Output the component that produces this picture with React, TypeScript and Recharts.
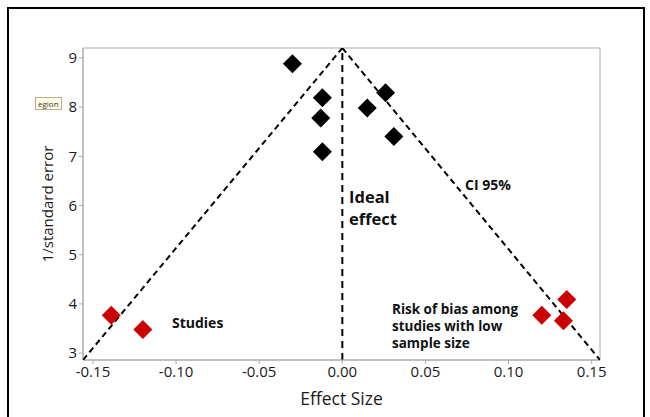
import React from 'react';
import { ScatterChart, Scatter, XAxis, YAxis, ReferenceLine, ReferenceArea, Label } from 'recharts';

const xTicks = [-0.15, -0.1, -0.05, 0, 0.05, 0.1, 0.15];
const yTicks = [3, 4, 5, 6, 7, 8, 9];

const studies = [
  { x: -0.03, y: 8.88 },
  { x: -0.012, y: 8.19 },
  { x: -0.013, y: 7.78 },
  { x: -0.012, y: 7.09 },
  { x: 0.015, y: 7.98 },
  { x: 0.026, y: 8.29 },
  { x: 0.031, y: 7.4 },
];

const biasStudies = [
  { x: -0.139, y: 3.77 },
  { x: -0.12, y: 3.48 },
  { x: 0.12, y: 3.77 },
  { x: 0.133, y: 3.66 },
  { x: 0.135, y: 4.09 },
];

const funnelLeft = [
  { x: -0.156, y: 2.86 },
  { x: 0, y: 9.2 },
];
const funnelRight = [
  { x: 0, y: 9.2 },
  { x: 0.155, y: 2.86 },
];

const font = '"Open Sans", "Noto Sans", sans-serif';

const Diamond = (color: string) => (props: any) => {
  const { cx, cy } = props;
  const r = 9.5;
  return (
    <polygon
      points={`${cx},${cy - r} ${cx + r},${cy} ${cx},${cy + r} ${cx - r},${cy}`}
      fill={color}
    />
  );
};

const NoDot = () => null;

export default function App() {
  return (
    <div style={{ position: 'absolute', left: 0, top: 0, width: 650, height: 417, background: '#fff', fontFamily: font }}>
      <div style={{ position: 'absolute', left: 7, top: 7, width: 634, height: 420, border: '2px solid #000', borderBottom: 'none' }} />
      <div style={{ position: 'absolute', left: 35, top: 97, fontSize: 8, border: '1px solid #b8b08a', background: '#fffbe6', padding: '0 2px', lineHeight: '11px', color: '#333' }}>
        egion
      </div>
      <div style={{ position: 'absolute', left: 0, top: 0 }}>
        <ScatterChart width={650} height={417} margin={{ top: 48, right: 50, left: 0, bottom: 0 }}>
          <XAxis
            type="number"
            dataKey="x"
            domain={[-0.156, 0.155]}
            ticks={xTicks}
            tickFormatter={(v: number) => v.toFixed(2)}
            height={57}
            stroke="#aaa"
            tickSize={4}
            tick={{ fill: '#1a1a1a', fontSize: 15, fontFamily: font }}
            allowDataOverflow
          >
            <Label value="Effect Size" position="insideBottom" offset={12} style={{ fill: '#1a1a1a', fontSize: 17.5, fontFamily: font }} />
          </XAxis>
          <YAxis
            type="number"
            dataKey="y"
            domain={[2.86, 9.2]}
            ticks={yTicks}
            width={83}
            stroke="#aaa"
            tickSize={4}
            tick={{ fill: '#1a1a1a', fontSize: 15, fontFamily: font }}
            allowDataOverflow
          >
            <Label value="1/standard error" angle={-90} position="insideLeft" offset={48} style={{ fill: '#1a1a1a', fontSize: 15, fontFamily: font, textAnchor: 'middle' }} />
          </YAxis>
          <ReferenceArea x1={-0.156} x2={0.155} y1={2.86} y2={9.2} fill="none" stroke="#aaa" strokeWidth={1} />
          <ReferenceLine x={0} stroke="#000" strokeWidth={2} strokeDasharray="7 5" />
          <Scatter data={funnelLeft} shape={NoDot} line={{ stroke: '#000', strokeWidth: 2, strokeDasharray: '6 4' }} isAnimationActive={false} />
          <Scatter data={funnelRight} shape={NoDot} line={{ stroke: '#000', strokeWidth: 2, strokeDasharray: '6 4' }} isAnimationActive={false} />
          <Scatter data={studies} shape={Diamond('#000')} isAnimationActive={false} />
          <Scatter data={biasStudies} shape={Diamond('#cc0000')} isAnimationActive={false} />
        </ScatterChart>
      </div>
      <div style={{ position: 'absolute', left: 349, top: 186, fontSize: 16.5, fontWeight: 700, lineHeight: '22px', color: '#111' }}>
        Ideal<br />effect
      </div>
      <div style={{ position: 'absolute', left: 465, top: 175, fontSize: 14, fontWeight: 700, color: '#111' }}>CI 95%</div>
      <div style={{ position: 'absolute', left: 172, top: 313, fontSize: 14, fontWeight: 700, color: '#111' }}>Studies</div>
      <div style={{ position: 'absolute', left: 392, top: 301, fontSize: 13.5, fontWeight: 700, lineHeight: '17px', color: '#111' }}>
        Risk of bias among<br />studies with low<br />sample size
      </div>
    </div>
  );
}
